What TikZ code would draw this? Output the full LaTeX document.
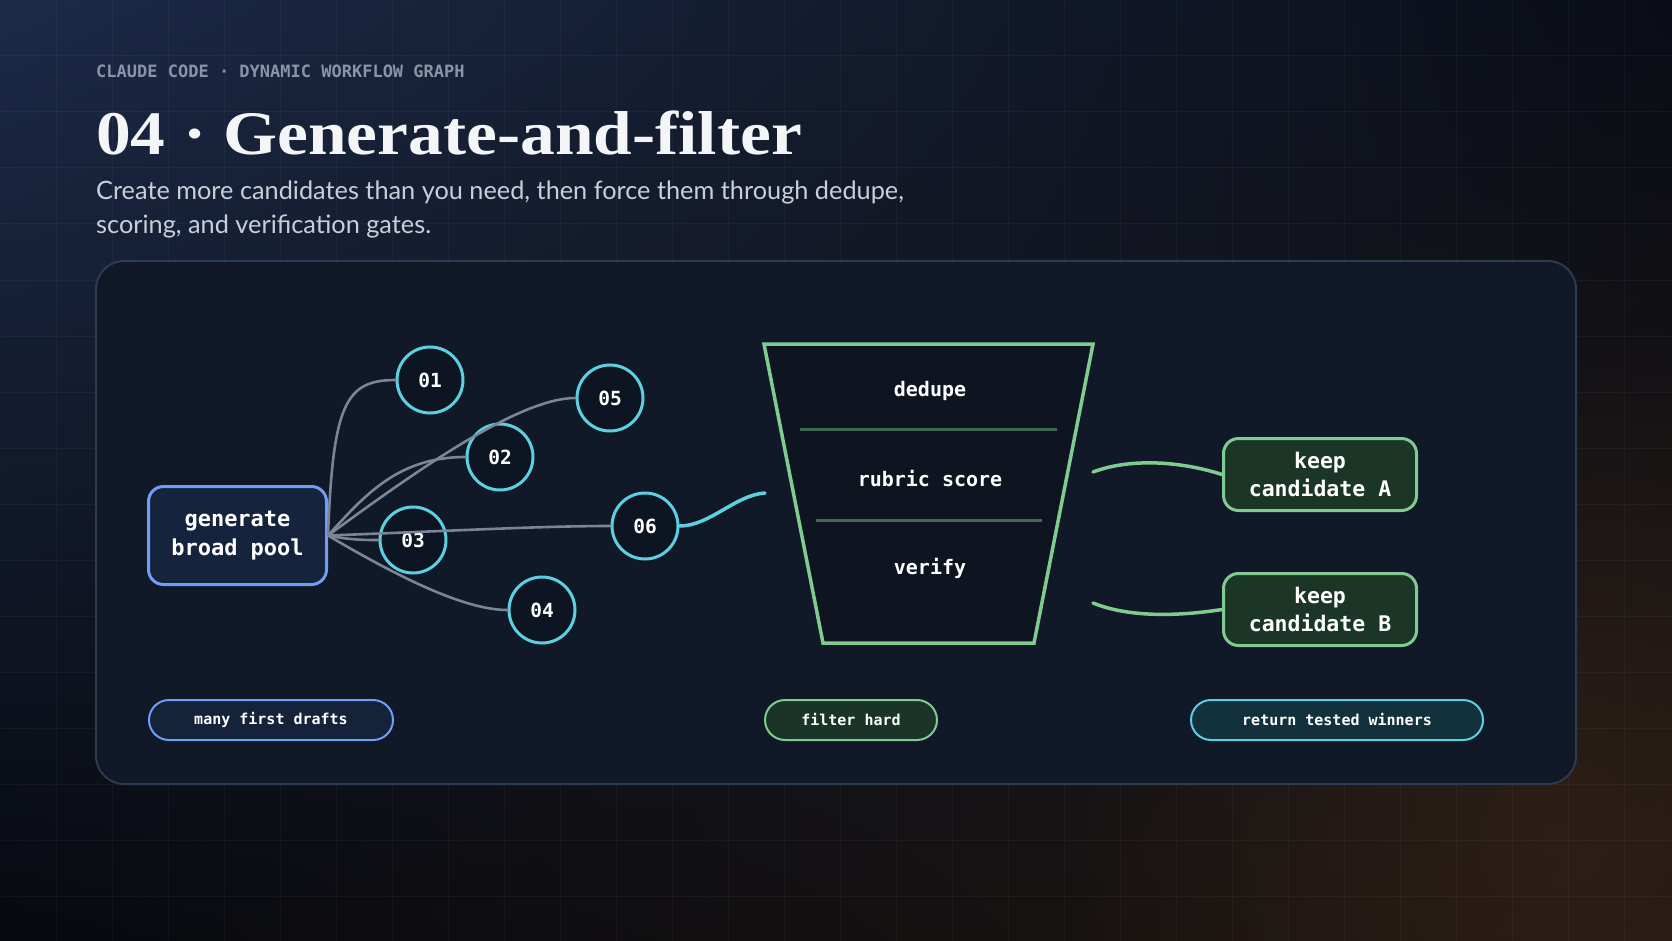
\documentclass[tikz,border=0pt]{standalone}
\usepackage{fontspec}
\usetikzlibrary{calc,shadings,fadings}
\setmainfont{Liberation Serif}
\newfontfamily\monofont{DejaVu Sans Mono}
\newfontfamily\subfont{Lato}
\newfontfamily\titlefont{Liberation Serif}

\definecolor{bgUL}{HTML}{1C2A48}
\definecolor{bgUR}{HTML}{0A0D16}
\definecolor{bgLL}{HTML}{07090F}
\definecolor{bgLR}{HTML}{1F1712}
\definecolor{glowc}{HTML}{3A261A}
\definecolor{gridc}{HTML}{FFFFFF}
\definecolor{panelfill}{HTML}{111827}
\definecolor{paneldraw}{HTML}{2C3A52}
\definecolor{headc}{HTML}{8A94A6}
\definecolor{subc}{HTML}{C9CFDA}
\definecolor{titlec}{HTML}{F4F5F7}
\definecolor{bluec}{HTML}{6E9EF5}
\definecolor{genfill}{HTML}{15233D}
\definecolor{cyanc}{HTML}{5CD0E0}
\definecolor{circfill}{HTML}{0E1522}
\definecolor{connc}{HTML}{7A8598}
\definecolor{greenc}{HTML}{80CC90}
\definecolor{funfill}{HTML}{0E1521}
\definecolor{divc}{HTML}{3F6B55}
\definecolor{keepfill}{HTML}{1B3526}
\definecolor{pillblue}{HTML}{14223A}
\definecolor{pillgreen}{HTML}{1A3527}
\definecolor{pillcyan}{HTML}{13313D}

\tikzfading[name=softglow, inner color=transparent!45, outer color=transparent!100]

\begin{document}
\begin{tikzpicture}[x=1pt,y=-1pt,
  conn/.style={draw=connc, line width=2.6pt, line cap=round},
  cyanconn/.style={draw=cyanc, line width=3.5pt, line cap=round},
  greenconn/.style={draw=greenc, line width=3.5pt, line cap=round},
  cand/.style={circle, draw=cyanc, line width=3pt, fill=circfill, minimum size=66pt, inner sep=0pt, text=white, font=\monofont\bfseries\fontsize{19.5}{22}\selectfont},
  genbox/.style={rectangle, rounded corners=15pt, draw=bluec, fill=genfill, line width=3pt, minimum width=178pt, minimum height=98pt, text=white, align=center, font=\monofont\bfseries\fontsize{22}{29}\selectfont},
  keepbox/.style={rectangle, rounded corners=15pt, draw=greenc, fill=keepfill, line width=3pt, minimum width=193pt, minimum height=72pt, text=white, align=center, font=\monofont\bfseries\fontsize{21.5}{28}\selectfont},
  pill/.style={rectangle, rounded corners=20pt, line width=2pt, minimum height=40pt, inner sep=0pt, text=white, font=\monofont\bfseries\fontsize{15}{18}\selectfont},
  gatelabel/.style={text=white, inner sep=0pt, font=\monofont\bfseries\fontsize{20}{24}\selectfont},
  panelbox/.style={rectangle, rounded corners=28pt, draw=paneldraw, fill=panelfill, line width=2pt, minimum width=1480pt, minimum height=523pt},
]
\useasboundingbox (0,0) rectangle (1672,941);
% background
\shade[upper left=bgUL, upper right=bgUR, lower left=bgLL, lower right=bgLR] (0,0) rectangle (1672,941);
\begin{scope}
\clip (0,0) rectangle (1672,941);
\fill[glowc, path fading=softglow] (1560,840) circle (520);
\end{scope}
\foreach \gx in {56,112,...,1624} \draw[gridc, opacity=0.035, line width=1pt] (\gx,0) -- (\gx,941);
\foreach \gy in {56,112,...,896} \draw[gridc, opacity=0.035, line width=1pt] (0,\gy) -- (1672,\gy);

% header texts
\node[anchor=west, inner sep=0pt, text=headc, font=\monofont\bfseries\fontsize{17}{20}\selectfont] (hdr) at (96,71) {CLAUDE CODE · DYNAMIC WORKFLOW GRAPH};
\node[anchor=base west, inner sep=0pt, text=titlec, font=\titlefont\bfseries\fontsize{62}{70}\selectfont] (title) at (96,155) {\scalebox{1.12}[1]{04 · Generate-and-filter}};
\node[anchor=base west, inner sep=0pt, text=subc, font=\subfont\fontsize{25.3}{30}\selectfont] (sub1) at (96,200) {Create more candidates than you need, then force them through dedupe,};
\node[anchor=base west, inner sep=0pt, text=subc, font=\subfont\fontsize{25.3}{30}\selectfont] (sub2) at (96,234) {scoring, and verification gates.};

% panel
\node[panelbox] (panel) at (836,522.5) {};

% generator and candidates
\node[genbox] (gen) at (237.5,535.5) {generate\\broad pool};
\node[cand] (c01) at (430,380) {01};
\node[cand] (c05) at (610,398) {05};
\node[cand] (c02) at (500,457) {02};
\node[cand] (c03) at (413,540) {03};
\node[cand] (c06) at (645,526) {06};
\node[cand] (c04) at (542,610) {04};

\draw[conn] (gen.east) .. controls (333,405) and (345,380) .. (c01.west);
\draw[conn] (gen.east) .. controls (365,495) and (398,457) .. (c02.west);
\draw[conn] (gen.east) .. controls (420,468) and (520,398) .. (c05.west);
\draw[conn] (gen.east) .. controls (350,540) and (365,540) .. (c03.west);
\draw[conn] (gen.east) .. controls (450,531) and (540,526) .. (c06.west);
\draw[conn] (gen.east) .. controls (400,578) and (465,610) .. (c04.west);

% funnel
\coordinate (ftl) at (764,344);
\coordinate (ftr) at (1093,344);
\coordinate (fbr) at (1034,643);
\coordinate (fbl) at (823,643);
\draw[draw=greenc, fill=funfill, line width=3.5pt, line join=miter] (ftl) -- (ftr) -- (fbr) -- (fbl) -- cycle;
\coordinate (d1l) at (800,429); \coordinate (d1r) at (1057,429);
\coordinate (d2l) at (816,520); \coordinate (d2r) at (1042,520);
\draw[divc, line width=3pt] (d1l) -- (d1r);
\draw[divc, line width=3pt] (d2l) -- (d2r);
\node[gatelabel] (ldedupe) at (930,391) {dedupe};
\node[gatelabel] (lrubric) at (930,479) {rubric score};
\node[gatelabel] (lverify) at (930,568) {verify};

\coordinate (fin) at (765,493);
\draw[cyanconn] (c06.east) .. controls (710,526) and (735,495) .. (fin);

% keep boxes
\node[keepbox] (kA) at (1320,474.5) {keep\\candidate A};
\node[keepbox] (kB) at (1320,609.5) {keep\\candidate B};
\coordinate (oA) at (1093,472);
\coordinate (oB) at (1093,603);
\draw[greenconn] (oA) .. controls (1130,458) and (1180,461) .. (kA.west);
\draw[greenconn] (oB) .. controls (1130,618) and (1180,616) .. (kB.west);

% pills
\node[pill, draw=bluec, fill=pillblue, minimum width=244pt] (p1) at (271,720) {many first drafts};
\node[pill, draw=greenc, fill=pillgreen, minimum width=172pt] (p2) at (851,720) {filter hard};
\node[pill, draw=cyanc, fill=pillcyan, minimum width=292pt] (p3) at (1337,720) {return tested winners};
\end{tikzpicture}
\end{document}
